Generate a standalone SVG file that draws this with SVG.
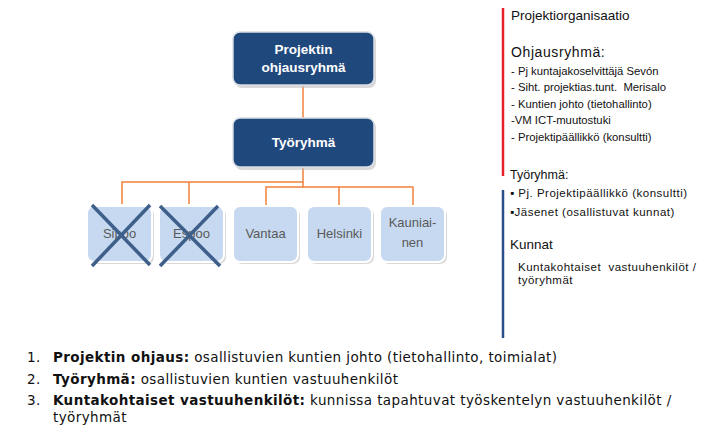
<svg xmlns="http://www.w3.org/2000/svg" width="705" height="434" viewBox="0 0 705 434">
<defs>
<style>
.dark{fill:#1f487c;stroke:#d9dde3;stroke-width:1.5}
.light{fill:#c6d9f1;stroke:#ffffff;stroke-width:2}
.shadow{fill:#bfbfbf;opacity:0.6}
.wt{font-family:"Liberation Sans",Arial,sans-serif;font-size:13.5px;font-weight:bold;fill:#ffffff;text-anchor:middle}
.gt{font-family:"Liberation Sans",Arial,sans-serif;font-size:13px;fill:#595959;text-anchor:middle}
.conn{fill:none;stroke:#f0813c;stroke-width:1.5}
.x{stroke:#3e5f8a;stroke-width:3.5}
.rt{font-family:"Liberation Sans",Arial,sans-serif;fill:#111111}
.s{font-size:11.3px}
.m{font-size:11.5px;letter-spacing:0.5px}
.bt{font-family:"DejaVu Sans",Verdana,sans-serif;font-size:13.5px;fill:#111111;letter-spacing:0.4px}
</style>
</defs>
<rect width="705" height="434" fill="#ffffff"/>
<g id="connectors">
<line class="conn" x1="303" y1="86" x2="303" y2="118"/>
<polyline class="conn" points="303,168 303,182 122,182 122,204"/>
<polyline class="conn" points="189,182 189,204"/>
<polyline class="conn" points="303,182 303,187 266,187 266,205"/>
<polyline class="conn" points="303,187 413,187 413,205"/>
<line class="conn" x1="339" y1="187" x2="339" y2="205"/>
</g>
<g id="node-ohjausryhma">
<rect class="shadow" x="235" y="34" width="141" height="54" rx="7"/>
<rect class="dark" x="233" y="32" width="141" height="53" rx="7"/>
<text class="wt" x="303.5" y="54">Projektin</text>
<text class="wt" x="303.5" y="72">ohjausryhmä</text>
</g>
<g id="node-tyoryhma">
<rect class="shadow" x="235" y="120" width="141" height="50" rx="7"/>
<rect class="dark" x="233" y="118" width="141" height="49" rx="7"/>
<text class="wt" x="303.5" y="147">Työryhmä</text>
</g>
<g id="node-sipoo">
<rect class="shadow" x="89" y="208" width="65" height="56" rx="7"/>
<rect class="light" x="87" y="206" width="65" height="56" rx="7"/>
<text class="gt" x="119.5" y="238">Sipoo</text>
<line class="x" x1="92" y1="205" x2="150" y2="265"/>
<line class="x" x1="150" y1="205" x2="92" y2="266"/>
</g>
<g id="node-espoo">
<rect class="shadow" x="161" y="208" width="65" height="56" rx="7"/>
<rect class="light" x="159" y="206" width="65" height="56" rx="7"/>
<text class="gt" x="191.5" y="238">Espoo</text>
<line class="x" x1="160" y1="206" x2="220" y2="266"/>
<line class="x" x1="218" y1="206" x2="160" y2="266"/>
</g>
<g id="node-vantaa">
<rect class="shadow" x="235" y="208" width="65" height="56" rx="7"/>
<rect class="light" x="233" y="206" width="65" height="56" rx="7"/>
<text class="gt" x="265.5" y="238">Vantaa</text>
</g>
<g id="node-helsinki">
<rect class="shadow" x="309" y="208" width="65" height="56" rx="7"/>
<rect class="light" x="307" y="206" width="65" height="56" rx="7"/>
<text class="gt" x="339.5" y="238">Helsinki</text>
</g>
<g id="node-kauniainen">
<rect class="shadow" x="382" y="208" width="65" height="56" rx="7"/>
<rect class="light" x="380" y="206" width="65" height="56" rx="7"/>
<text class="gt" x="412.5" y="227">Kauniai-</text>
<text class="gt" x="412.5" y="247">nen</text>
</g>
<g id="side-panel">
<line x1="503" y1="8" x2="503" y2="176" stroke="#e8202a" stroke-width="2.5"/>
<line x1="503" y1="190" x2="503" y2="338" stroke="#2b4f8c" stroke-width="2.5"/>
<text class="rt" x="511" y="20" font-size="13.5px">Projektiorganisaatio</text>
<text class="rt" x="511" y="57" font-size="14px" letter-spacing="0.6px">Ohjausryhmä:</text>
<text class="rt s" x="511" y="75">- Pj kuntajakoselvittäjä Sevón</text>
<text class="rt s" x="511" y="91" xml:space="preserve">- Siht. projektias.tunt.  Merisalo</text>
<text class="rt s" x="511" y="108">- Kuntien johto (tietohallinto)</text>
<text class="rt s" x="511" y="124">-VM ICT-muutostuki</text>
<text class="rt s" x="511" y="141">- Projektipäällikkö (konsultti)</text>
<text class="rt" x="510" y="179" font-size="12.5px">Työryhmä:</text>
<text class="rt m" x="510" y="197">▪ Pj. Projektipäällikkö (konsultti)</text>
<text class="rt m" x="510" y="216">▪Jäsenet (osallistuvat kunnat)</text>
<text class="rt" x="510" y="249" font-size="13.5px">Kunnat</text>
<text class="rt m" x="518" y="271" xml:space="preserve">Kuntakohtaiset  vastuuhenkilöt /</text>
<text class="rt m" x="518" y="284">työryhmät</text>
</g>
<g id="bottom-list">
<text class="bt" x="27" y="362">1.<tspan font-weight="bold" x="53">Projektin ohjaus:</tspan> osallistuvien kuntien johto (tietohallinto, toimialat)</text>
<text class="bt" x="27" y="384">2.<tspan font-weight="bold" x="53">Työryhmä:</tspan> osallistuvien kuntien vastuuhenkilöt</text>
<text class="bt" x="27" y="405">3.<tspan font-weight="bold" x="53">Kuntakohtaiset vastuuhenkilöt:</tspan> kunnissa tapahtuvat työskentelyn vastuuhenkilöt /</text>
<text class="bt" x="53" y="422">työryhmät</text>
</g>
</svg>
